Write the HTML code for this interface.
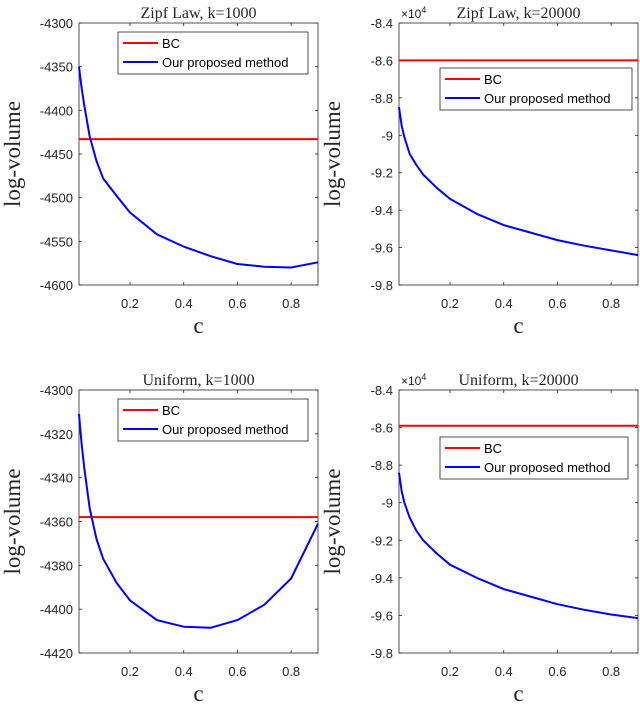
<!DOCTYPE html>
<html><head><meta charset="utf-8"><style>
body{margin:0;background:#fff;width:640px;height:703px;overflow:hidden}
svg text{font-family:"Liberation Sans",sans-serif}
.serif{font-family:"Liberation Serif",serif}
</style></head><body>
<svg id="fig" width="640" height="703" viewBox="0 0 640 703" xmlns="http://www.w3.org/2000/svg"></svg>
<script>
const cVals=[0.01,0.02,0.03,0.05,0.075,0.1,0.15,0.2,0.3,0.4,0.5,0.6,0.7,0.8,0.9];
const zipf1000=[-4350,-4375,-4395,-4430,-4458,-4478,-4498,-4517,-4542,-4556,-4567,-4576,-4579,-4580,-4574];
const zipf1000BC=-4433;
const zipf20000=[-8.85,-8.95,-9.01,-9.1,-9.16,-9.21,-9.28,-9.34,-9.42,-9.48,-9.52,-9.56,-9.59,-9.615,-9.64];
const zipf20000BC=-8.6;
const unif1000=[-4311,-4325,-4336,-4354,-4368,-4377,-4388,-4396,-4405,-4408,-4408.5,-4405,-4398,-4386,-4361];
const unif1000BC=-4358;
const unif20000=[-8.84,-8.94,-9.0,-9.08,-9.15,-9.2,-9.27,-9.33,-9.40,-9.46,-9.50,-9.54,-9.57,-9.595,-9.615];
const unif20000BC=-8.59;
const xTicks=[0.2,0.4,0.6,0.8];
const yTicks1=[-4300,-4350,-4400,-4450,-4500,-4550,-4600];
const yTicks2=[-8.4,-8.6,-8.8,-9,-9.2,-9.4,-9.6,-9.8];
const yTicks3=[-4300,-4320,-4340,-4360,-4380,-4400,-4420];

const NS="http://www.w3.org/2000/svg";
const svg=document.getElementById('fig');
function mk(tag,attrs,parent){const e=document.createElementNS(NS,tag);for(const k in attrs)e.setAttribute(k,attrs[k]);(parent||svg).appendChild(e);return e;}

function panel(o){
  const g=mk('g',{});
  
  
  const xs=v=>o.L+(v-0.01)/(0.9-0.01)*(o.R-o.L);
  const ys=v=>o.T+(o.ymax-v)/(o.ymax-o.ymin)*(o.B-o.T);
  const box=mk('rect',{x:o.L,y:o.T,width:o.R-o.L,height:o.B-o.T,fill:'none',stroke:'#262626','stroke-width':0.8},g);
  
  
  xTicks.forEach(t=>{
    const x=xs(t);
    mk('line',{x1:x,x2:x,y1:o.B,y2:o.B-3,stroke:'#262626','stroke-width':0.8},g);
    mk('line',{x1:x,x2:x,y1:o.T,y2:o.T+3,stroke:'#262626','stroke-width':0.8},g);
    const tx=mk('text',{x:x,y:o.B+23,'font-size':13,'text-anchor':'middle',fill:'#262626'},g);
    tx.textContent=t.toFixed(1);
    
    
  });
  o.yTicks.forEach(t=>{
    const y=ys(t);
    mk('line',{x1:o.L,x2:o.L+3,y1:y,y2:y,stroke:'#262626','stroke-width':0.8},g);
    mk('line',{x1:o.R,x2:o.R-3,y1:y,y2:y,stroke:'#262626','stroke-width':0.8},g);
    const tx=mk('text',{x:o.L-6,y:y+5,'font-size':13,'text-anchor':'end',fill:'#262626'},g);
    tx.textContent=String(t);
    
    
  });
  if(o.exp){
    const ex=mk('text',{x:o.L+2,y:o.T-5,'font-size':12,fill:'#262626'},g);
    ex.innerHTML='×10<tspan font-size="9" dy="-5">4</tspan>';
    
    
  }
  const ti=mk('text',{x:(o.L+o.R)/2,y:o.T-5,'font-size':16,'text-anchor':'middle',class:'serif',fill:'#262626'},g);
  ti.textContent=o.title;
  
  
  const yl=mk('text',{x:0,y:0,'font-size':23,'text-anchor':'middle',class:'serif',fill:'#262626',transform:`translate(${o.L-59},${(o.T+o.B)/2}) rotate(-90)`},g);
  yl.textContent='log-volume';
  
  
  const xl=mk('text',{x:(o.L+o.R)/2,y:o.B+48,'font-size':23,'text-anchor':'middle',class:'serif',fill:'#262626'},g);
  xl.textContent='c';
  
  
  const bc=mk('line',{x1:xs(cVals[0]),x2:xs(cVals[cVals.length-1]),y1:ys(o.bc),y2:ys(o.bc),stroke:'#ff0000','stroke-width':2},g);
  
  
  const pts=cVals.map((c,i)=>xs(c).toFixed(1)+','+ys(o.vals[i]).toFixed(1)).join(' ');
  const pl=mk('polyline',{points:pts,fill:'none',stroke:'#0000ff','stroke-width':2,'stroke-linejoin':'round'},g);
  
  
  const lg=mk('g',{},g);
  
  
  mk('rect',{x:o.lx,y:o.ly,width:o.lw,height:42,fill:'#fff',stroke:'#262626','stroke-width':0.8},lg);
  mk('line',{x1:o.lx+5,x2:o.lx+40,y1:o.ly+11,y2:o.ly+11,stroke:'#ff0000','stroke-width':2},lg);
  mk('line',{x1:o.lx+5,x2:o.lx+40,y1:o.ly+30,y2:o.ly+30,stroke:'#0000ff','stroke-width':2},lg);
  const t1=mk('text',{x:o.lx+44,y:o.ly+16,'font-size':13,fill:'#000'},lg);t1.textContent='BC';
  
  
  const t2=mk('text',{x:o.lx+44,y:o.ly+35,'font-size':13,fill:'#000'},lg);t2.textContent='Our proposed method';
  
  
}
panel({name:'panel-zipf-1000',L:79,R:318,T:23,B:285,ymin:-4600,ymax:-4300,yTicks:yTicks1,vals:zipf1000,bc:zipf1000BC,title:'Zipf Law, k=1000',lx:118,ly:32,lw:190});
panel({name:'panel-zipf-20000',L:399,R:638,T:23,B:285,ymin:-9.8,ymax:-8.4,yTicks:yTicks2,vals:zipf20000,bc:zipf20000BC,title:'Zipf Law, k=20000',exp:true,lx:440,ly:68,lw:192});
panel({name:'panel-uniform-1000',L:79,R:318,T:390,B:653,ymin:-4420,ymax:-4300,yTicks:yTicks3,vals:unif1000,bc:unif1000BC,title:'Uniform, k=1000',lx:118,ly:399,lw:190});
panel({name:'panel-uniform-20000',L:399,R:638,T:390,B:653,ymin:-9.8,ymax:-8.4,yTicks:yTicks2,vals:unif20000,bc:unif20000BC,title:'Uniform, k=20000',exp:true,lx:440,ly:437,lw:188});
</script>
</body></html>
